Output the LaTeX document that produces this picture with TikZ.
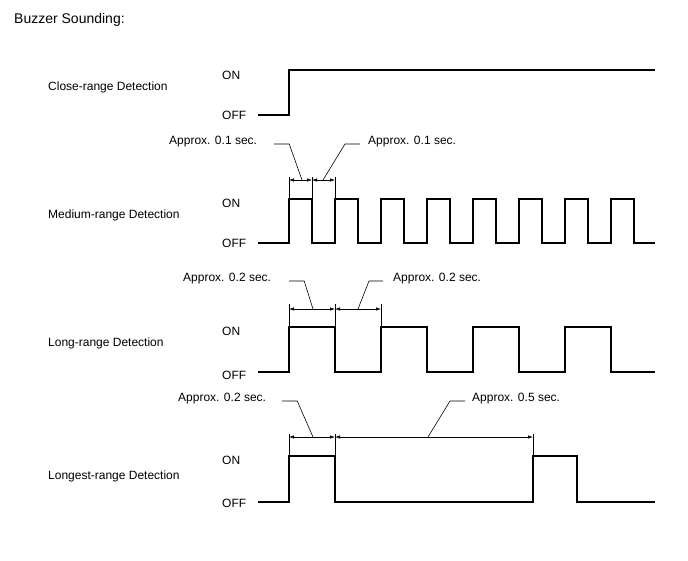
\documentclass[tikz,border=0pt]{standalone}
\usepackage{fontspec}
\setmainfont{Liberation Sans}
\usetikzlibrary{arrows.meta}

\tikzset{
    txt/.style={anchor=west, inner sep=0pt, font=\fontsize{12}{14}\selectfont},
    wave/.style={line width=1.2pt, line join=miter},
    dim/.style={line width=0.6pt},
    dimarr/.style={line width=0.6pt, {Latex[length=5pt,width=3.4pt]}-{Latex[length=5pt,width=3.4pt]}}
}

\begin{document}
\begin{tikzpicture}[x=1pt, y=-1pt]
    \useasboundingbox (0,0) rectangle (688,560);

    \node[txt, font=\fontsize{14}{16}\selectfont] (title) at (14,20) { Buzzer Sounding: };

    % close-range
    \node[txt] (close) at (48,87) { Close-range Detection };
    \node[txt] (onA) at (222,75) { ON };
    \node[txt] (offA) at (222,115) { OFF };
    \draw [wave] (258,115) -- (289,115) -- (289,70) -- (655,70);

    % medium-range
    \node[txt] (medium) at (48,215) { Medium-range Detection };
    \node[txt] (onB) at (222,203) { ON };
    \node[txt] (offB) at (222,243) { OFF };
    \draw [wave] (258,243) -- (289,243) -- (289,199) -- (312,199) -- (312,243)
        -- (335,243) -- (335,199) -- (358,199) -- (358,243)
        -- (381,243) -- (381,199) -- (404,199) -- (404,243)
        -- (427,243) -- (427,199) -- (450,199) -- (450,243)
        -- (473,243) -- (473,199) -- (496,199) -- (496,243)
        -- (519,243) -- (519,199) -- (542,199) -- (542,243)
        -- (565,243) -- (565,199) -- (588,199) -- (588,243)
        -- (611,243) -- (611,199) -- (634,199) -- (634,243) -- (655,243);
    \draw [dim] (289,177) -- (289,199);
    \draw [dim] (312,177) -- (312,199);
    \draw [dim] (335,177) -- (335,199);
    \coordinate (dimB1) at (302,180);
    \coordinate (dimB2) at (323,180);
    \draw [dimarr] (289,180) -- (312,180);
    \draw [dimarr] (312,180) -- (335,180);
    \node[txt] (lblB1) at (169,142) { Approx. 0.1 sec. };
    \node[txt] (lblB2) at (368,142) { Approx. 0.1 sec. };
    \draw [dim] (lblB1.east) ++(17,2) -- ++(15,0) -- (dimB1);
    \draw [dim] (lblB2.west) ++(-8,2) -- ++(-15,0) -- (dimB2);

    % long-range
    \node[txt] (long) at (48,343) { Long-range Detection };
    \node[txt] (onC) at (222,331) { ON };
    \node[txt] (offC) at (222,375) { OFF };
    \draw [wave] (258,372) -- (289,372) -- (289,327) -- (335,327) -- (335,372)
        -- (381,372) -- (381,327) -- (427,327) -- (427,372)
        -- (473,372) -- (473,327) -- (519,327) -- (519,372)
        -- (565,372) -- (565,327) -- (611,327) -- (611,372) -- (655,372);
    \draw [dim] (289,304) -- (289,327);
    \draw [dim] (335,304) -- (335,327);
    \draw [dim] (381,304) -- (381,327);
    \coordinate (dimC1) at (313,309);
    \coordinate (dimC2) at (358,309);
    \draw [dimarr] (289,309) -- (335,309);
    \draw [dimarr] (335,309) -- (381,309);
    \node[txt] (lblC1) at (183,279) { Approx. 0.2 sec. };
    \node[txt] (lblC2) at (393,279) { Approx. 0.2 sec. };
    \draw [dim] (lblC1.east) ++(18,2) -- ++(15,0) -- (dimC1);
    \draw [dim] (lblC2.west) ++(-10,2) -- ++(-14,0) -- (dimC2);

    % longest-range
    \node[txt] (longest) at (48,476) { Longest-range Detection };
    \node[txt] (onD) at (222,460) { ON };
    \node[txt] (offD) at (222,503) { OFF };
    \draw [wave] (258,502) -- (289,502) -- (289,456) -- (335,456) -- (335,502)
        -- (533,502) -- (533,456) -- (577,456) -- (577,502) -- (655,502);
    \draw [dim] (289,434) -- (289,456);
    \draw [dim] (335,434) -- (335,456);
    \draw [dim] (533,434) -- (533,456);
    \coordinate (dimD1) at (313,437);
    \coordinate (dimD2) at (428,437);
    \draw [dimarr] (289,437) -- (335,437);
    \draw [dimarr] (335,437) -- (533,437);
    \node[txt] (lblD1) at (178,399) { Approx. 0.2 sec. };
    \node[txt] (lblD2) at (472,399) { Approx. 0.5 sec. };
    \draw [dim] (lblD1.east) ++(16,2) -- ++(15,0) -- (dimD1);
    \draw [dim] (lblD2.west) ++(-7,2) -- ++(-15,0) -- (dimD2);
\end{tikzpicture}
\end{document}
